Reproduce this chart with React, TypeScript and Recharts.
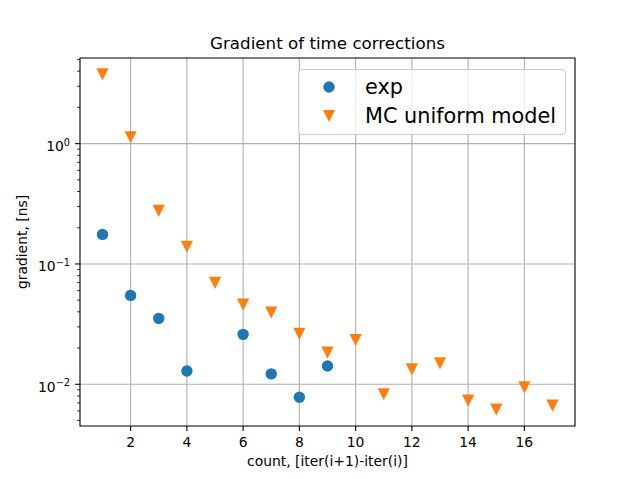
import React from 'react';
import { ScatterChart, Scatter, XAxis, YAxis, CartesianGrid, Legend, ReferenceArea } from 'recharts';

const expCounts = [1, 2, 3, 4, 6, 7, 8, 9];
const expValues = [0.176, 0.0548, 0.0353, 0.0129, 0.026, 0.0122, 0.0078, 0.0142];

const mcCounts = [1, 2, 3, 4, 5, 6, 7, 8, 9, 10, 11, 12, 13, 14, 15, 16, 17];
const mcValues = [
  3.76, 1.13, 0.276, 0.139, 0.0695, 0.046, 0.0395, 0.0263, 0.0183, 0.0233, 0.00826, 0.0133, 0.0149,
  0.00731, 0.00615, 0.00944, 0.00664,
];

const xTicks = [2, 4, 6, 8, 10, 12, 14, 16];
const yMajorTicks = [0.01, 0.1, 1];
const yMajorLabels = ['\u22122', '\u22121', '0'];
const yMinorTicks = [
  0.005, 0.006, 0.007, 0.008, 0.009, 0.02, 0.03, 0.04, 0.05, 0.06, 0.07, 0.08, 0.09, 0.2, 0.3, 0.4, 0.5,
  0.6, 0.7, 0.8, 0.9, 2, 3, 4, 5,
];

const expData = expCounts.map((x, i) => ({ x, y: expValues[i] }));
const mcData = mcCounts.map((x, i) => ({ x, y: mcValues[i] }));

const BLUE = '#1f77b4';
const ORANGE = '#ff7f0e';
const FONT = '"DejaVu Sans", sans-serif';

const Dot = (props: any) => <circle cx={props.cx} cy={props.cy} r={5.7} fill={BLUE} />;

const Tri = (props: any) => {
  const { cx, cy } = props;
  const h = 6.1;
  return <polygon points={`${cx - h},${cy - h} ${cx + h},${cy - h} ${cx},${cy + h}`} fill={ORANGE} />;
};

const XTick = (props: any) => {
  const { x, y, payload } = props;
  return (
    <g>
      <line x1={x} x2={x} y1={y} y2={y + 4.9} stroke="#000" strokeWidth={1.1} />
      <text x={x} y={y + 21} textAnchor="middle" fontSize={13.9} fontFamily={FONT} fill="#000">
        {payload.value}
      </text>
    </g>
  );
};

const YTick = (props: any) => {
  const { x, y, payload } = props;
  const idx = yMajorTicks.findIndex((v) => Math.abs(v - payload.value) < payload.value * 1e-6);
  if (idx < 0) {
    return <line x1={x - 2.8} x2={x} y1={y} y2={y} stroke="#000" strokeWidth={0.83} />;
  }
  return (
    <g>
      <line x1={x - 4.9} x2={x} y1={y} y2={y} stroke="#000" strokeWidth={1.1} />
      <text x={x - 10} y={y + 7.4} textAnchor="end" fontFamily={FONT} fill="#000">
        <tspan fontSize={13.9}>10</tspan>
        <tspan fontSize={9.7} dy={-5.5}>
          {yMajorLabels[idx]}
        </tspan>
      </text>
    </g>
  );
};

const LegendBox = () => (
  <div
    style={{
      width: 266,
      height: 64,
      border: '1px solid #cccccc',
      borderRadius: 4,
      background: 'rgba(255,255,255,0.8)',
      fontFamily: FONT,
      fontSize: 20.8,
      color: '#000',
      position: 'relative',
    }}
  >
    <svg width={60} height={64} style={{ position: 'absolute', left: 0, top: 0 }}>
      <circle cx={30} cy={17} r={5.7} fill={BLUE} />
      <polygon points="23.9,39.9 36.1,39.9 30,52.1" fill={ORANGE} />
    </svg>
    <div style={{ position: 'absolute', left: 66, top: 17, transform: 'translateY(-50%)', lineHeight: 1, whiteSpace: 'nowrap' }}>
      exp
    </div>
    <div style={{ position: 'absolute', left: 66, top: 46, transform: 'translateY(-50%)', lineHeight: 1, whiteSpace: 'nowrap' }}>
      MC uniform model
    </div>
  </div>
);

const textStyle: React.CSSProperties = {
  position: 'absolute',
  fontFamily: FONT,
  color: '#000',
  lineHeight: 1,
  whiteSpace: 'nowrap',
};

export default function App() {
  return (
    <div style={{ position: 'absolute', left: 0, top: 0, width: 639, height: 479, background: '#fff' }}>
      <ScatterChart width={639} height={479} margin={{ top: 58, right: 64, bottom: 23, left: 20 }}>
        <CartesianGrid
          stroke="#b0b0b0"
          strokeWidth={1.1}
          horizontalValues={yMajorTicks}
          verticalValues={xTicks}
        />
        <XAxis
          type="number"
          dataKey="x"
          domain={[0.2, 17.8]}
          ticks={xTicks}
          interval={0}
          allowDataOverflow
          height={30}
          tickSize={0}
          tickMargin={0}
          tickLine={false}
          axisLine={false}
          tick={<XTick />}
        />
        <YAxis
          type="number"
          dataKey="y"
          scale="log"
          domain={[0.0045, 5.15]}
          ticks={[...yMinorTicks, ...yMajorTicks]}
          interval={0}
          allowDataOverflow
          width={60}
          tickSize={0}
          tickMargin={0}
          tickLine={false}
          axisLine={false}
          tick={<YTick />}
        />
        <ReferenceArea x1={0.2} x2={17.8} y1={0.0045} y2={5.15} fill="none" stroke="#000" strokeWidth={1.1} />
        <Scatter name="exp" data={expData} fill={BLUE} shape={<Dot />} isAnimationActive={false} />
        <Scatter name="MC uniform model" data={mcData} fill={ORANGE} shape={<Tri />} isAnimationActive={false} />
        <Legend
          layout="horizontal"
          verticalAlign="middle"
          align="center"
          content={<LegendBox />}
          wrapperStyle={{ left: 298, top: 69, width: 'auto', height: 'auto' }}
        />
      </ScatterChart>
      <div style={{ ...textStyle, left: 327.5, top: 43, transform: 'translate(-50%,-50%)', fontSize: 16.7 }}>
        Gradient of time corrections
      </div>
      <div style={{ ...textStyle, left: 327.5, top: 462, transform: 'translate(-50%,-50%)', fontSize: 13.9 }}>
        count, [iter(i+1)-iter(i)]
      </div>
      <div
        style={{
          ...textStyle,
          left: 23,
          top: 242,
          transform: 'translate(-50%,-50%) rotate(-90deg)',
          fontSize: 13.9,
        }}
      >
        gradient, [ns]
      </div>
    </div>
  );
}
